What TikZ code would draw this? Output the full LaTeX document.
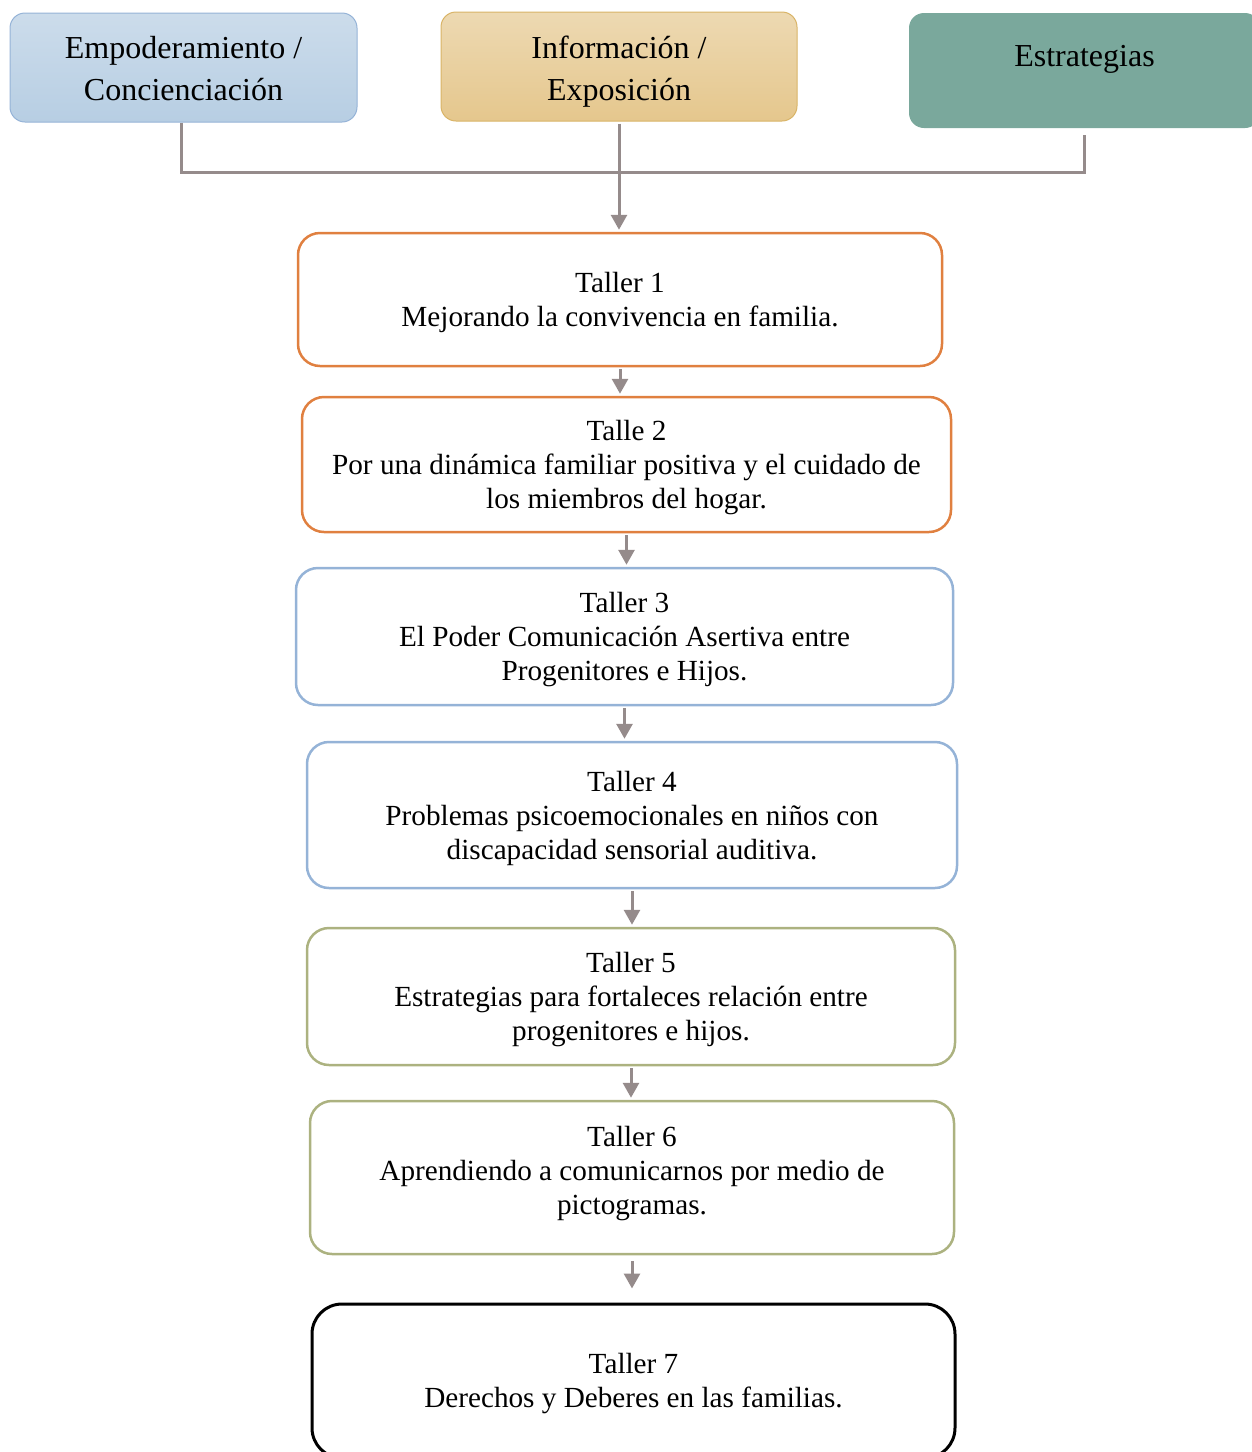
\documentclass[tikz,border=0pt]{standalone}
\usepackage{fontspec}
\setmainfont{Liberation Serif}
\usetikzlibrary{positioning}
\usetikzlibrary{arrows.meta}

\definecolor{linkgray}{RGB}{149,139,139}
\definecolor{tallerorange}{RGB}{224,128,64}
\definecolor{tallerblue}{RGB}{149,179,215}
\definecolor{tallerolive}{RGB}{172,178,128}
\definecolor{esttea}{RGB}{122,168,156}

\tikzstyle{topbox}=[draw, rounded corners=15, line width=1, align=center, inner sep=0, font=\fontsize{32}{42}\selectfont, text depth=12]
\tikzstyle{taller}=[draw, rounded corners=22, line width=2.5, align=center, inner sep=0, font=\fontsize{29.2}{34}\selectfont, text depth=10]
\tikzstyle{twolines}=[text height=64.6]
\tikzstyle{threelines}=[text height=98.6]
\tikzstyle{link}=[draw=linkgray, line width=3]
\tikzstyle{flow}=[link, -{Triangle[length=15, width=16]}, shorten <=2, shorten >=2]

\begin{document}
\begin{tikzpicture}[x=1pt, y=-1pt]
            \useasboundingbox (0,0) rectangle (1252,1452);

            % cabecera
            \node[topbox, text height=78, draw=tallerblue, top color={rgb,255:red,204;green,220;blue,235}, bottom color={rgb,255:red,183;green,206;blue,227}, minimum width=347, minimum height=109] (emp) at (183.5,67.5) {Empoderamiento /\\Concienciación};
            \node[topbox, text height=80, draw={rgb,255:red,217;green,180;blue,103}, top color={rgb,255:red,237;green,217;blue,178}, bottom color={rgb,255:red,229;green,199;blue,141}, minimum width=356, minimum height=109] (info) at (619,66.5) {Información /\\Exposición};
            \node[fill=esttea, rounded corners=15, inner sep=0, font=\fontsize{32}{42}\selectfont, text height=22, text depth=30, minimum width=351, minimum height=115] (est) at (1084.5,70.5) {Estrategias};

            % talleres
            \node[taller, twolines, draw=tallerorange, minimum width=644, minimum height=133] (t1) at (620,299.5) {Taller 1\\Mejorando la convivencia en familia.};
            \node[taller, threelines, draw=tallerorange, minimum width=649, minimum height=135] (t2) at (626.5,464.5) {Talle 2\\Por una dinámica familiar positiva y el cuidado de\\los miembros del hogar.};
            \node[taller, threelines, draw=tallerblue, minimum width=657, minimum height=137] (t3) at (624.5,636.5) {Taller 3\\El Poder Comunicación Asertiva entre\\Progenitores e Hijos.};
            \node[taller, threelines, draw=tallerblue, minimum width=650, minimum height=146] (t4) at (632,815) {Taller 4\\Problemas psicoemocionales en niños con\\discapacidad sensorial auditiva.};
            \node[taller, threelines, draw=tallerolive, minimum width=648, minimum height=137] (t5) at (631,996.5) {Taller 5\\Estrategias para fortaleces relación entre\\progenitores e hijos.};
            \node[taller, text height=84.6, draw=tallerolive, minimum width=644, minimum height=153] (t6) at (632,1177.5) {Taller 6\\Aprendiendo a comunicarnos por medio de\\pictogramas.};
            \node[taller, text height=63.6, draw=black, line width=3, rounded corners=30, minimum width=643, minimum height=154] (t7) at (633.5,1381) {Taller 7\\Derechos y Deberes en las familias.};

            \draw[link] ([xshift=-2]emp.south) -- ++(0,50) -| ([yshift=-7]est.south);
            \draw[flow] (info.south) -- (info.south |- t1.north);

            \draw[flow] (t1.south) -- (t1.south |- t2.north);
            \draw[flow] (t2.south) -- (t2.south |- t3.north);
            \draw[flow] (t3.south) -- (t3.south |- t4.north);
            \draw[flow] (t4.south) -- (t4.south |- t5.north);
            \draw[flow] (t5.south) -- (t5.south |- t6.north);
            \draw[flow, shorten <=6, shorten >=14] (t6.south) -- (t6.south |- t7.north);
        \end{tikzpicture}
\end{document}
